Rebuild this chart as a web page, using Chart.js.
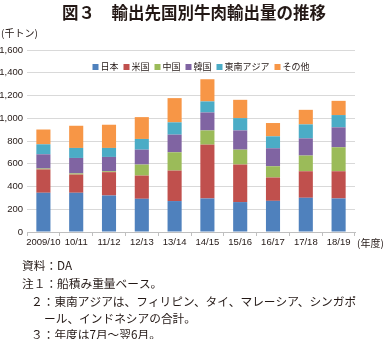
<!DOCTYPE html>
<html>
<head>
<meta charset="utf-8">
<script src="https://cdn.jsdelivr.net/npm/chart.js@4.4.1/dist/chart.umd.min.js"></script>
<style>
  html, body { margin: 0; padding: 0; background: #fff; }
  #wrap { width: 387px; height: 339px; position: relative; }
</style>
</head>
<body>
<div id="wrap"><canvas id="c" width="387" height="339"></canvas></div>
<script>
// 年度（7月～翌6月）
const categories = ['2009/10', '10/11', '11/12', '12/13', '13/14', '14/15', '15/16', '16/17', '17/18', '18/19'];

// 輸出先別 牛肉輸出量（千トン、船積み重量ベース）
const japan    = [345, 345, 321, 292, 272, 295, 263, 274, 301, 295];
const usa      = [205, 160, 205, 204, 268, 473, 330, 205, 233, 239];
const china    = [8,   10,  8,   97,  161, 125, 131, 99,  138, 211];
const korea    = [125, 136, 126, 131, 155, 158, 169, 158, 151, 175];
const seAsia   = [88,  88,  79,  94,  108, 97,  108, 105, 123, 108];
const others   = [130, 195, 204, 192, 213, 195, 161, 117, 128, 125];

const yTicks = [0, 200, 400, 600, 800, 1000, 1200, 1400, 1600];

const seriesNames = ['日本', '米国', '中国', '韓国', '東南アジア', 'その他'];
const seriesData = [japan, usa, china, korea, seAsia, others];
const seriesColors = ['#4f81bd', '#c0504d', '#9bbb59', '#8064a2', '#4bacc6', '#f79646'];

const JP = '"Noto Sans CJK JP", "Noto Sans", sans-serif';

const notes = [
  { x: 22, y: 266, t: '資料：DA' },
  { x: 22, y: 284, t: '注１：船積み重量ベース。' },
  { x: 31, y: 302, t: '２：東南アジアは、フィリピン、タイ、マレーシア、シンガポ' },
  { x: 44, y: 319, t: 'ール、インドネシアの合計。' },
  { x: 31, y: 335, t: '３：年度は7月～翌6月。' }
];

// 凡例（プロット領域内に横一列で描く）
const legendPlugin = {
  id: 'inlineLegend',
  afterDatasetsDraw(chart) {
    const ctx = chart.ctx;
    const items = chart.data.datasets.map(d => ({ label: d.label, color: d.backgroundColor }));
    const box = 6, gapBox = 2, gapItem = 5;
    ctx.save();
    ctx.font = '9px ' + JP;
    ctx.textBaseline = 'middle';
    ctx.textAlign = 'left';
    const widths = items.map(it => box + gapBox + ctx.measureText(it.label).width);
    const total = widths.reduce((a, b) => a + b, 0) + gapItem * (items.length - 1);
    let x = 201 - total / 2;
    const y = 67;
    items.forEach((it, i) => {
      ctx.fillStyle = it.color;
      ctx.fillRect(x, y - box / 2, box, box);
      ctx.fillStyle = '#231815';
      ctx.fillText(it.label, x + box + gapBox, y);
      x += widths[i] + gapItem;
    });
    ctx.restore();
  }
};

const textPlugin = {
  id: 'texts',
  afterDraw(chart) {
    const ctx = chart.ctx;
    ctx.save();
    ctx.fillStyle = '#231815';
    ctx.textBaseline = 'middle';
    // title
    ctx.font = 'bold 16.5px ' + JP;
    ctx.textAlign = 'center';
    ctx.fillText('図３　輸出先国別牛肉輸出量の推移', 194, 13);
    // unit labels
    ctx.font = '10px ' + JP;
    ctx.textAlign = 'left';
    ctx.fillText('(千トン)', 1, 33);
    ctx.fillText('(年度)', 357, 243);
    // notes
    ctx.font = '11.7px ' + JP;
    notes.forEach(n => ctx.fillText(n.t, n.x, n.y));
    ctx.restore();
  }
};

new Chart(document.getElementById('c'), {
  type: 'bar',
  data: {
    labels: categories,
    datasets: seriesNames.map((name, i) => ({
      label: name,
      data: seriesData[i],
      backgroundColor: seriesColors[i],
      borderWidth: 0,
      barPercentage: 0.43,
      categoryPercentage: 1.0
    }))
  },
  options: {
    responsive: false,
    animation: false,
    devicePixelRatio: 1,
    layout: { padding: { top: 50, left: 0, right: 32, bottom: 92 } },
    plugins: {
      legend: { display: false },
      tooltip: { enabled: false },
      title: { display: false }
    },
    scales: {
      x: {
        stacked: true,
        afterFit(s) { s.height = 15; },
        grid: {
          display: true,
          drawOnChartArea: false,
          drawTicks: true,
          tickLength: 4,
          offset: true,
          color: '#bfbfbf'
        },
        border: { display: true, color: '#bfbfbf' },
        ticks: {
          autoSkip: false,
          maxRotation: 0,
          padding: 1,
          color: '#231815',
          font: { family: '"Liberation Sans", Arial, sans-serif', size: 9.5 }
        }
      },
      y: {
        stacked: true,
        min: 0,
        max: 1600,
        afterFit(s) { s.width = 27; },
        afterBuildTicks(s) { s.ticks = yTicks.map(v => ({ value: v })); },
        grid: { color: '#d9d9d9', drawTicks: false },
        border: { display: false },
        ticks: {
          padding: 4,
          color: '#231815',
          font: { family: '"Liberation Sans", Arial, sans-serif', size: 9.5 },
          callback: v => v.toLocaleString('en-US')
        }
      }
    }
  },
  plugins: [legendPlugin, textPlugin]
});
</script>
</body>
</html>
